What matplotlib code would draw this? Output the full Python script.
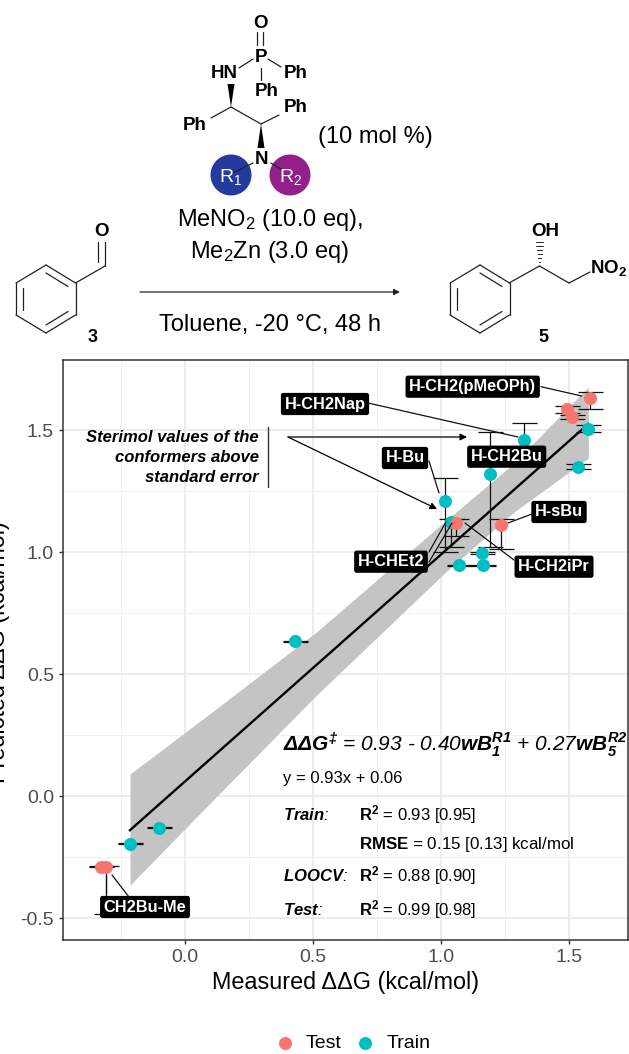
import matplotlib
matplotlib.use("Agg")
import matplotlib.pyplot as plt
from matplotlib.patches import Circle, Polygon

plt.rcParams['font.family'] = ['Liberation Sans', 'DejaVu Sans']
plt.rcParams['mathtext.fontset'] = 'custom'
plt.rcParams['mathtext.rm'] = 'Liberation Sans'
plt.rcParams['mathtext.it'] = 'Liberation Sans:italic'
plt.rcParams['mathtext.bf'] = 'Liberation Sans:bold'
plt.rcParams['mathtext.bfit'] = 'Liberation Sans:italic:bold'

# ---------- data ----------
train_x = [1.575, 1.325, 1.19, 1.535, 1.015, 1.04, 1.16, 1.07, 1.165, 0.43, -0.10, -0.215]
train_y = [1.505, 1.46, 1.32, 1.35, 1.21, 1.125, 0.995, 0.945, 0.945, 0.635, -0.13, -0.195]
train_lo = [1.49, 1.40, 1.02, 1.34, 1.00, 1.02, 0.99, 0.943, 0.943, 0.633, -0.132, -0.197]
train_hi = [1.52, 1.53, 1.49, 1.36, 1.305, 1.135, 1.00, 0.947, 0.947, 0.637, -0.128, -0.193]
test_x = [1.58, 1.49, 1.51, 1.06, 1.235, -0.33, -0.31]
test_y = [1.632, 1.585, 1.553, 1.12, 1.11, -0.29, -0.29]
test_lo = [1.586, 1.57, 1.545, 1.065, 1.012, -0.292, -0.485]
test_hi = [1.655, 1.60, 1.56, 1.135, 1.135, -0.288, -0.288]
fit_x = [-0.215, 1.575]
fit_y = [-0.14, 1.525]
band_x = [-0.215, 0.11, 0.514, 1.02, 1.28, 1.575]
band_lo = [-0.365, -0.016, 0.414, 0.92, 1.16, 1.385]
band_hi = [0.09, 0.348, 0.673, 1.13, 1.36, 1.676]
x_ticks = [0.0, 0.5, 1.0, 1.5]
y_ticks = [-0.5, 0.0, 0.5, 1.0, 1.5]
x_minor = [-0.25, 0.25, 0.75, 1.25]
y_minor = [-0.25, 0.25, 0.75, 1.25]
RED, TEAL = '#F8766D', '#00BFC4'

W, H = 629, 1054
fig = plt.figure(figsize=(W / 100, H / 100), dpi=100)
ax = fig.add_axes([63 / W, 1 - 940 / H, 565 / W, 580 / H])
ax.set_xlim(-0.4766, 1.73)
ax.set_ylim(-0.59, 1.787)

# grid
ax.set_xticks(x_ticks)
ax.set_yticks(y_ticks)
ax.set_xticks(x_minor, minor=True)
ax.set_yticks(y_minor, minor=True)
ax.grid(True, which='major', color='#ebebeb', lw=1.3)
ax.grid(True, which='minor', color='#f0f0f0', lw=0.7)
ax.set_axisbelow(True)
ax.tick_params(which='minor', length=0)
ax.tick_params(which='major', length=3, color='#333333', labelcolor='#4d4d4d', labelsize=14, width=1)
ax.set_xticklabels(['0.0', '0.5', '1.0', '1.5'])
ax.set_yticklabels(['-0.5', '0.0', '0.5', '1.0', '1.5'])
for s in ax.spines.values():
    s.set_color('#333333')
    s.set_linewidth(1.1)

ax.fill_between(band_x, band_lo, band_hi, color='#c4c4c4', lw=0, zorder=1)
ax.plot(fit_x, fit_y, color='black', lw=1.7, zorder=2)


def bars(x, y, lo, hi):
    low = [a - b for a, b in zip(y, lo)]
    high = [b - a for a, b in zip(y, hi)]
    ax.errorbar(x, y, yerr=[low, high], fmt='none', ecolor='#111111',
                elinewidth=0.9, capsize=9, capthick=0.9, zorder=3)


bars(train_x, train_y, train_lo, train_hi)
bars(test_x, test_y, test_lo, test_hi)
ax.scatter(train_x, train_y, s=88, color=TEAL, lw=0, zorder=4)
ax.scatter(test_x, test_y, s=88, color=RED, lw=0, zorder=5)

# overlay in pixel coordinates for the scheme and annotations
ov = fig.add_axes([0, 0, 1, 1], zorder=10)
ov.set_xlim(0, W)
ov.set_ylim(H, 0)
ov.axis('off')
ov.patch.set_alpha(0)


def L(p, q, lw=0.9, c='#222222', z=2):
    ov.plot([p[0], q[0]], [p[1], q[1]], color=c, lw=lw, solid_capstyle='round', zorder=z)


def T(x, y, s, size=17, ha='center', va='center', **k):
    ov.text(x, y, s, fontsize=size, ha=ha, va=va, **k)


# catalyst
B = dict(fontweight='bold')
T(260, 23, 'O', 13.5, **B)
L((257, 32), (257, 45)); L((263, 32), (263, 45))
T(261, 57, 'P', 13.5, **B)
T(224, 74, 'HN', 13.5, **B)
T(296, 74, 'Ph', 13.5, **B)
T(267, 91, 'Ph', 13.5, **B)
L((253, 59), (239, 68)); L((268, 59), (281, 67)); L((261, 68), (261, 80))
ov.add_patch(Polygon([(231, 107), (227.5, 84), (234.5, 84)], color='black', lw=0))
L((231, 107), (211, 118)); L((231, 107), (261, 124)); L((261, 124), (279, 115))
T(195, 125, 'Ph', 13.5, **B)
T(296, 108, 'Ph', 13.5, **B)
ov.add_patch(Polygon([(261, 124), (257.5, 148), (264.5, 148)], color='black', lw=0))
ov.add_patch(Circle((231, 175), 20.5, color='#233a9e', lw=0, zorder=1))
ov.add_patch(Circle((290, 175), 20.5, color='#93208a', lw=0, zorder=1))
T(261, 159, 'N', 13.5, **B)
L((253, 163), (233, 173)); L((271, 163), (283, 170))
T(231, 177, r'R$_{\mathregular{1}}$', 14, color='white')
T(291, 177, r'R$_{\mathregular{2}}$', 14, color='white')
T(375, 137, '(10 mol %)', 17)
T(270, 220, r'MeNO$_{\mathregular{2}}$ (10.0 eq),', 17)
T(270, 252, r'Me$_{\mathregular{2}}$Zn (3.0 eq)', 17)
T(270, 325, 'Toluene, -20 °C, 48 h', 17)
ov.annotate('', xy=(400, 292), xytext=(140, 292),
            arrowprops=dict(arrowstyle='-|>', color='#222222', lw=0.9, mutation_scale=9, shrinkA=0, shrinkB=0))
T(93, 338, '3', 13, **B)
T(543, 338, '5', 13, **B)


def benzene(ox):
    v = [(ox + 30, 265), (ox + 59.5, 283), (ox + 59.5, 315), (ox + 30, 333), (ox, 315), (ox, 283)]
    for i in range(6):
        L(v[i], v[(i + 1) % 6])
    L((ox + 30, 273), (ox + 52, 286.5))
    L((ox + 52, 311.5), (ox + 30, 325))
    L((ox + 7, 288), (ox + 7, 310))


benzene(16)
benzene(450)
L((75.5, 283), (105, 266)); L((105, 266), (105, 242)); L((98, 262), (98, 242))
T(101.5, 232, 'O', 13.5, **B)
L((509, 283), (539.5, 266)); L((539.5, 266), (569, 283)); L((569, 283), (590, 272))
for i in range(6):
    y_h = 262 - i * 4
    w_h = 0.8 + i * 0.6
    L((539.5 - w_h, y_h), (539.5 + w_h, y_h), lw=0.7)
T(545.5, 232, 'OH', 13.5, **B)
T(590, 268, r'NO$_{\mathbf{2}}$', 13.5, ha='left', **B)

# annotations inside the panel
SI = dict(ha='right', fontweight='bold', fontstyle='italic')
T(259, 438, 'Sterimol values of the', 12, **SI)
T(259, 458, 'conformers above', 12, **SI)
T(259, 478, 'standard error', 12, **SI)
L((268, 427), (268, 487), lw=1.0, c='#333333')
for end in [(467, 437), (437, 509)]:
    ov.annotate('', xy=end, xytext=(288, 437),
                arrowprops=dict(arrowstyle='-|>', color='black', lw=0.9, mutation_scale=10, shrinkA=0, shrinkB=0))

for a, b in [((541, 386.7), (581.7, 396)), ((368, 403), (518, 437)), ((429, 461), (439, 493)),
             ((532, 514), (508, 523)), ((429, 552), (446, 522)), ((429, 562), (452, 523)),
             ((514, 560), (465, 523)), ((106, 894), (106, 875)), ((129, 897), (112, 875))]:
    L(a, b, lw=0.9, c='#111111', z=6)


def tag(x, y, s, size=11.8):
    ov.text(x, y, s, fontsize=size, fontweight='bold', color='white', ha='center', va='center', zorder=8,
            bbox=dict(boxstyle='round,pad=0.22,rounding_size=0.15', fc='black', ec='black', lw=0))


tag(472.7, 386.7, 'H-CH2(pMeOPh)')
tag(325, 404, 'H-CH2Nap')
tag(405, 458, 'H-Bu')
tag(506.7, 456.7, 'H-CH2Bu')
tag(559, 512, 'H-sBu')
tag(391, 561.7, 'H-CHEt2')
tag(554, 566.7, 'H-CH2iPr')
tag(145, 907, 'CH2Bu-Me')

T(283, 745, r'$\mathbfit{\Delta\Delta G^{\ddag}}$ = 0.93 - 0.40$\mathbfit{wB_1^{R1}}$'
            r' + 0.27$\mathbfit{wB_5^{R2}}$', 15, ha='left', fontstyle='italic')
T(283, 779, 'y = 0.93x + 0.06', 12, ha='left')
T(283, 815, r'$\mathbfit{Train}$:', 12, ha='left', fontstyle='italic')
T(359, 815, r'$\mathbf{R^2}$ = 0.93 [0.95]', 12, ha='left')
T(359, 844, r'$\mathbf{RMSE}$ = 0.15 [0.13] kcal/mol', 12.2, ha='left')
T(283, 876, r'$\mathbfit{LOOCV}$:', 12, ha='left', fontstyle='italic')
T(359, 876, r'$\mathbf{R^2}$ = 0.88 [0.90]', 12, ha='left')
T(283, 910, r'$\mathbfit{Test}$:', 12, ha='left', fontstyle='italic')
T(359, 910, r'$\mathbf{R^2}$ = 0.99 [0.98]', 12, ha='left')

# axis titles and legend
T(346, 983, 'Measured ΔΔG (kcal/mol)', 16.8)
T(-1, 652, 'Predicted ΔΔG (kcal/mol)', 16.8, rotation=90, clip_on=False)
ov.scatter([285], [1043], s=88, color=RED, lw=0)
ov.scatter([365], [1043], s=88, color=TEAL, lw=0)
T(306, 1044, 'Test', 14, ha='left')
T(387, 1044, 'Train', 14, ha='left')

fig.savefig('out.png', dpi=100)
